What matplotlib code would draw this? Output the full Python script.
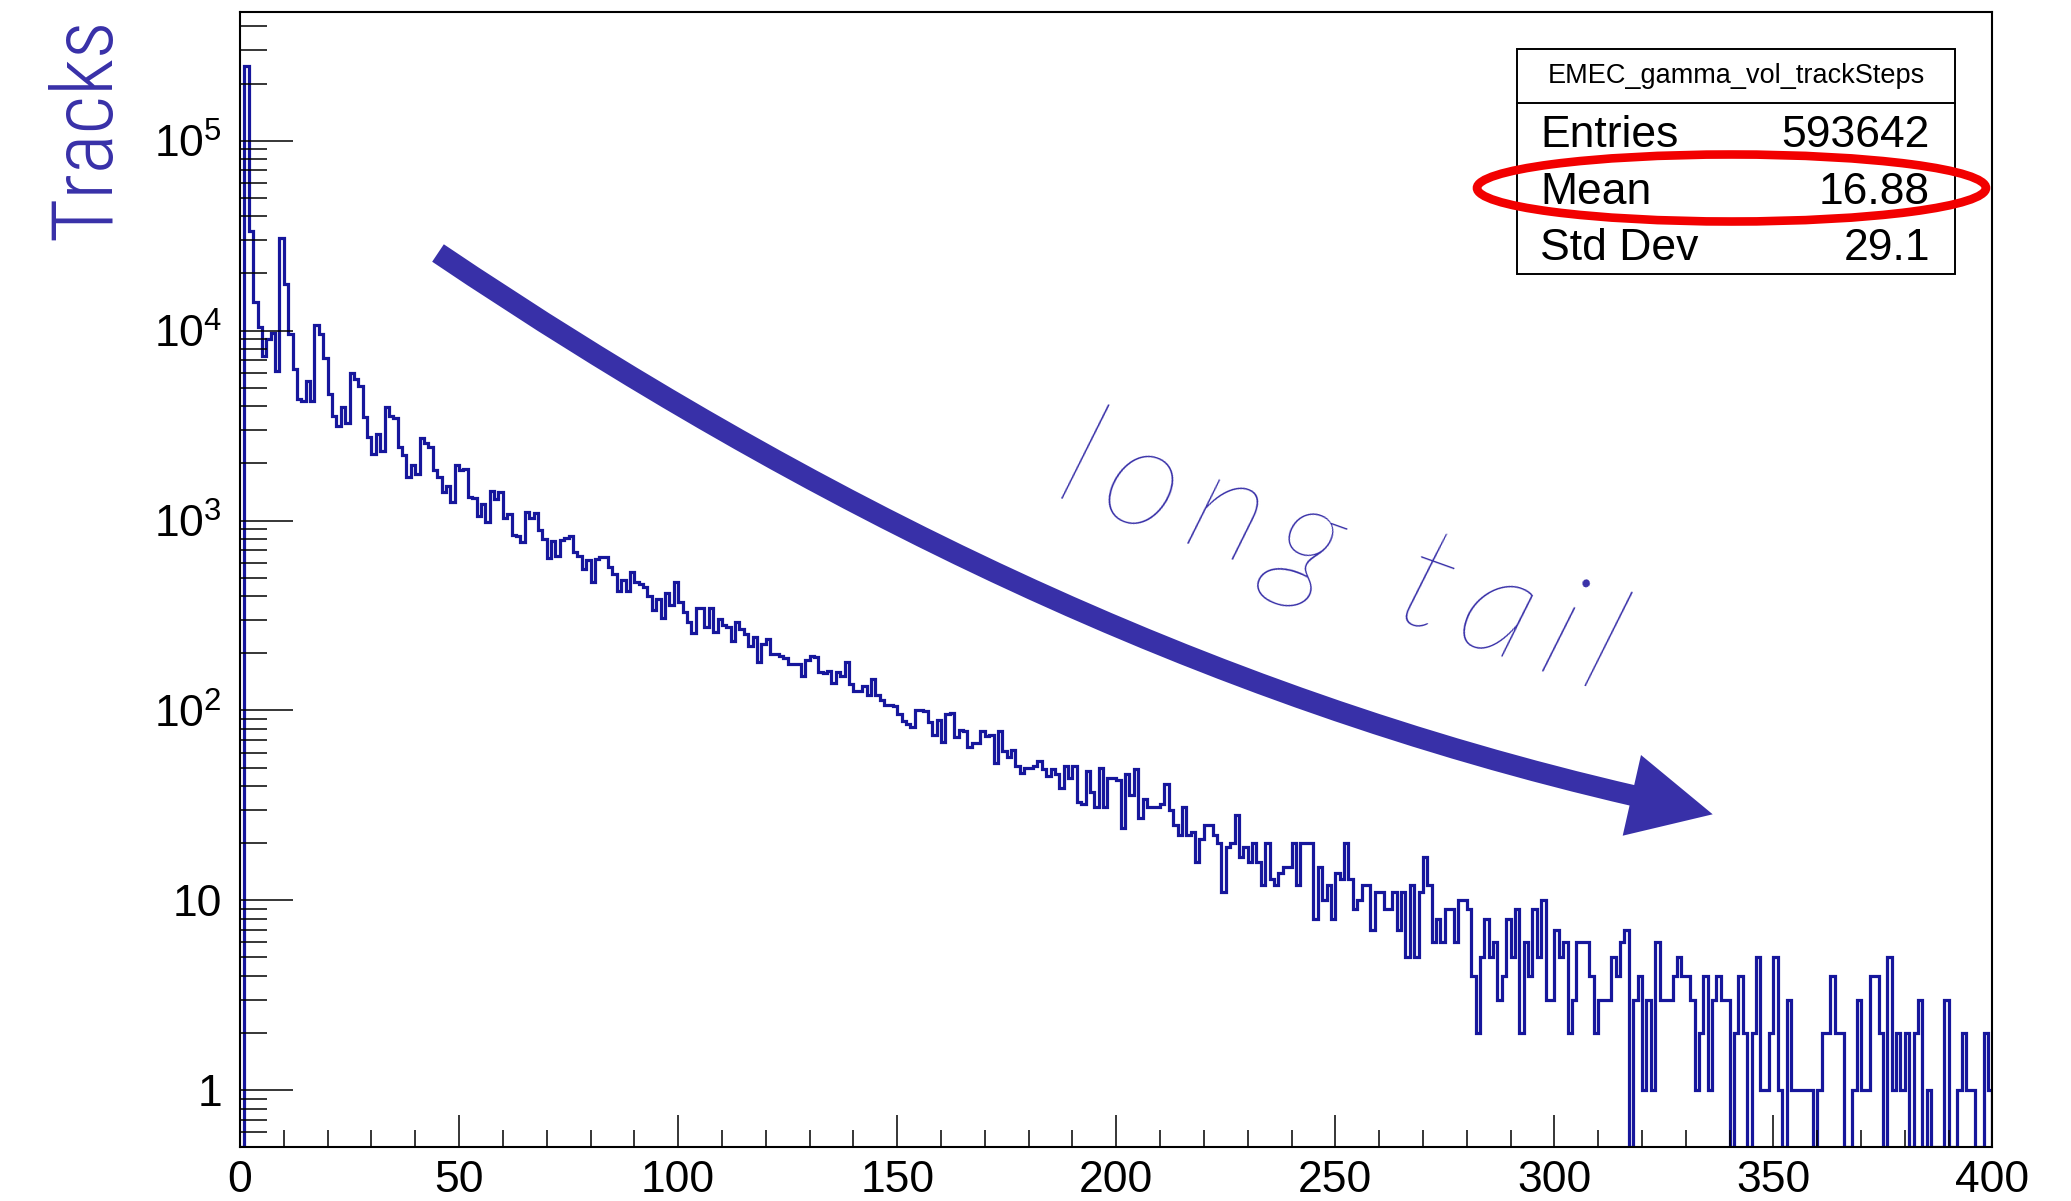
import numpy as np
import matplotlib
matplotlib.use("Agg")
import matplotlib.pyplot as plt
from matplotlib import font_manager as fm
from matplotlib.font_manager import FontProperties
from matplotlib.patches import Rectangle, Ellipse, Polygon, PathPatch
from matplotlib.path import Path
from matplotlib.ticker import (FixedLocator, FixedFormatter, MultipleLocator,
                               LogLocator, NullFormatter)

plt.rcParams['font.family'] = ['Liberation Sans', 'DejaVu Sans']
plt.rcParams['mathtext.fontset'] = 'custom'
plt.rcParams['mathtext.rm'] = 'Liberation Sans'
plt.rcParams['mathtext.it'] = 'Liberation Sans:italic'
plt.rcParams['mathtext.bf'] = 'Liberation Sans:bold'

# ---------------- data ----------------
bin_edges = np.arange(0, 401, 1)
counts = [
    0, 246600, 33400, 14130, 10440, 7350, 9060, 9750, 6130, 30800, 17650, 9560, 6260, 4350, 4270, 5430, 4270, 10700, 9550, 7150,
    4620, 3560, 3150, 3960, 3280, 6010, 5550, 5120, 3510, 2760, 2250, 2850, 2310, 3960, 3560, 3480, 2450, 2220, 1685, 1955,
    1755, 2710, 2575, 2450, 1840, 1685, 1405, 1520, 1245, 1965, 1840, 1860, 1330, 1320, 1060, 1220, 977, 1430, 1295, 1405,
    1030, 1080, 837, 831, 773, 1115, 1037, 1093, 889, 798, 631, 782, 652, 789, 807, 824, 679, 652, 555, 618,
    472, 626, 639, 639, 566, 526, 424, 485, 427, 533, 472, 462, 448, 402, 337, 385, 306, 413, 360, 472,
    371, 328, 291, 255, 348, 348, 276, 348, 258, 303, 283, 274, 233, 291, 268, 252, 219, 244, 179, 225,
    238, 198, 198, 194, 188, 175, 175, 175, 151, 184, 194, 190, 159, 157, 162, 139, 159, 151, 179, 138,
    127, 127, 135, 120, 146, 120, 113, 107, 107, 106, 96, 88, 85, 82, 100, 100, 99, 87, 74, 89,
    68, 96, 97, 72, 79, 78, 64, 67, 67, 78, 73, 74, 53, 78, 61, 57, 62, 51, 47, 50,
    50, 51, 54, 49, 45, 49, 46, 39, 51, 44, 51, 33, 32, 48, 37, 31, 50, 31, 44, 44,
    43, 24, 46, 36, 49, 27, 34, 31, 31, 31, 32, 41, 30, 25, 22, 31, 22, 23, 16, 21,
    25, 25, 22, 20, 11, 19, 20, 28, 17, 19, 16, 20, 16, 12, 20, 13, 12, 14, 15, 15,
    20, 12, 20, 20, 20, 8, 15, 10, 12, 8, 14, 13, 20, 13, 9, 10, 12, 12, 7, 11,
    11, 9, 9, 11, 7, 11, 5, 12, 5, 11, 17, 12, 6, 8, 6, 9, 9, 6, 10, 10,
    9, 4, 2, 5, 8, 5, 6, 3, 4, 8, 5, 9, 2, 6, 4, 9, 5, 10, 3, 3,
    7, 5, 6, 2, 3, 6, 6, 6, 4, 2, 3, 3, 3, 5, 4, 6, 7, 0, 3, 4,
    1, 3, 1, 6, 3, 3, 3, 4, 5, 4, 4, 3, 1, 2, 4, 1, 3, 4, 3, 3,
    0, 2, 4, 2, 0, 2, 5, 1, 1, 2, 5, 1, 0, 3, 1, 1, 1, 1, 1, 0,
    1, 2, 2, 4, 2, 2, 0, 0, 1, 3, 1, 1, 4, 4, 2, 0, 5, 1, 2, 1,
    2, 0, 2, 3, 0, 1, 0, 0, 0, 3, 0, 0, 1, 2, 1, 1, 0, 0, 2, 1,
]
x_ticks = [0, 50, 100, 150, 200, 250, 300, 350, 400]
x_tick_labels = ['0', '50', '100', '150', '200', '250', '300', '350', '400']
y_ticks = [1, 10, 100, 1000, 10000, 100000]
y_tick_labels = ['1', '10', r'$\mathregular{10^{2}}$', r'$\mathregular{10^{3}}$',
                 r'$\mathregular{10^{4}}$', r'$\mathregular{10^{5}}$']
y_label = 'Tracks'
stats_title = 'EMEC_gamma_vol_trackSteps'
stats_names = ['Entries', 'Mean', 'Std Dev']
stats_values = ['593642', '16.88', '29.1']
note_text = 'long tail'


# ---------------- font helpers ----------------
def _w(f):
    w = f.weight
    if isinstance(w, (int, float)):
        return int(w)
    return fm.weight_dict.get(str(w), 400)


ttf = fm.fontManager.ttflist
narrow = None
for nm in ['Roboto Condensed', 'Open Sans Condensed', 'Liberation Sans Narrow']:
    c_ = [f for f in ttf if f.name == nm and f.style == 'normal' and 250 <= _w(f) <= 400]
    if c_:
        narrow = sorted(c_, key=lambda f: abs(_w(f) - 300))[0]
        break
if narrow is None:
    c_ = [f for f in ttf if f.name == 'DejaVu Sans' and f.style == 'normal'
          and str(f.stretch) in ('condensed', '75', 'semi-condensed') and _w(f) <= 400]
    if c_:
        narrow = sorted(c_, key=lambda f: abs(_w(f) - 300))[0]

lato_it = [f for f in ttf if f.name == 'Lato' and f.style in ('italic', 'oblique') and _w(f) <= 300]
if lato_it:
    lato_it = sorted(lato_it, key=lambda f: abs(_w(f) - 250))[0]
    note_fp = FontProperties(fname=lato_it.fname, size=104)
    note_rot = -19.7
else:
    note_fp = FontProperties(family=['Lato', 'DejaVu Sans'], weight='light', size=104)
    note_rot = -21.5

# ---------------- figure ----------------
W, H = 2071, 1201
fig = plt.figure(figsize=(W / 100, H / 100), dpi=100)
fig.patch.set_facecolor('white')
ax = fig.add_axes([240 / W, 1 - 1147.3 / H, (1992.5 - 240) / W, (1147.3 - 12.3) / H])

hist_color = '#16169c'
accent = '#3830a8'

ymin = 0.5
c = np.asarray(counts, dtype=float)
cmax = c.max()
ymax = 10 ** (np.log10(cmax) + 0.05 * (np.log10(cmax) - np.log10(ymin)))
plot_vals = np.where(c > 0, c, ymin)

ax.set_yscale('log')
ax.stairs(plot_vals, bin_edges, baseline=ymin, color=hist_color, linewidth=2.3)
ax.set_xlim(0, 400)
ax.set_ylim(ymin, ymax)

ax.xaxis.set_major_locator(FixedLocator(x_ticks))
ax.xaxis.set_major_formatter(FixedFormatter(x_tick_labels))
ax.xaxis.set_minor_locator(MultipleLocator(10))
ax.yaxis.set_major_locator(FixedLocator(y_ticks))
ax.yaxis.set_major_formatter(FixedFormatter(y_tick_labels))
ax.yaxis.set_minor_locator(LogLocator(base=10, subs=np.arange(2, 10), numticks=30))
ax.yaxis.set_minor_formatter(NullFormatter())

ax.tick_params(axis='x', which='major', direction='in', length=23, width=1.1,
               labelsize=32, pad=9, top=False)
ax.tick_params(axis='x', which='minor', direction='in', length=12, width=1.1, top=False)
ax.tick_params(axis='y', which='major', direction='in', length=38, width=1.1,
               labelsize=32, pad=13, right=False)
ax.tick_params(axis='y', which='minor', direction='in', length=19.5, width=1.1, right=False)
for s in ax.spines.values():
    s.set_linewidth(1.5)

# ---------------- overlay in pixel coordinates ----------------
ov = fig.add_axes([0, 0, 1, 1], zorder=10)
ov.set_xlim(0, W)
ov.set_ylim(H, 0)
ov.axis('off')

# stats box
ov.add_patch(Rectangle((1517.3, 49.3), 1955 - 1517.3, 274.3 - 49.3,
                       facecolor='white', edgecolor='black', linewidth=1.4))
ov.plot([1517.3, 1955], [103.3, 103.3], color='black', linewidth=1.4)
ov.text(1736, 76, stats_title, ha='center', va='center', fontsize=19.5)
for name, val, yb in zip(stats_names, stats_values, [147.3, 204.5, 260.5]):
    ov.text(1540, yb, name, ha='left', va='baseline', fontsize=32)
    ov.text(1930, yb, val, ha='right', va='baseline', fontsize=32)

# red ellipse around Mean
ov.add_patch(Ellipse((1731.5, 188), 509, 67, fill=False, edgecolor='#f20000', linewidth=6.2))

# curved arrow
arrow_path = Path([(438, 253), (811, 504), (1202, 696), (1635, 796)],
                  [Path.MOVETO, Path.CURVE4, Path.CURVE4, Path.CURVE4])
ov.add_patch(PathPatch(arrow_path, fill=False, edgecolor=accent, linewidth=15.1,
                       capstyle='butt'))
ov.add_patch(Polygon([(1712.7, 814.3), (1641, 755), (1622.7, 835.7)], closed=True,
                     facecolor=accent, edgecolor='none'))

# y label: fit its length to the reference (about 227 px)
if narrow is not None:
    yl_fp = FontProperties(fname=narrow.fname, size=61)
else:
    yl_fp = FontProperties(family=['Liberation Sans', 'DejaVu Sans'], size=61)
yl = ov.text(110, 240, y_label, rotation=90, rotation_mode='anchor', ha='left',
             va='baseline', fontproperties=yl_fp, color=accent)
fig.canvas.draw()
ext = yl.get_window_extent(fig.canvas.get_renderer())
if ext.height > 228:
    yl.set_fontsize(61 * 228 / ext.height)

# annotation with widened letter spacing
spaced = '\u200a\u200a'.join(list(note_text))
ov.text(1328, 594, spaced, rotation=note_rot, rotation_mode='anchor', ha='center',
        va='baseline', fontproperties=note_fp, color=accent)

fig.savefig('out.png', dpi=100, facecolor='white')
